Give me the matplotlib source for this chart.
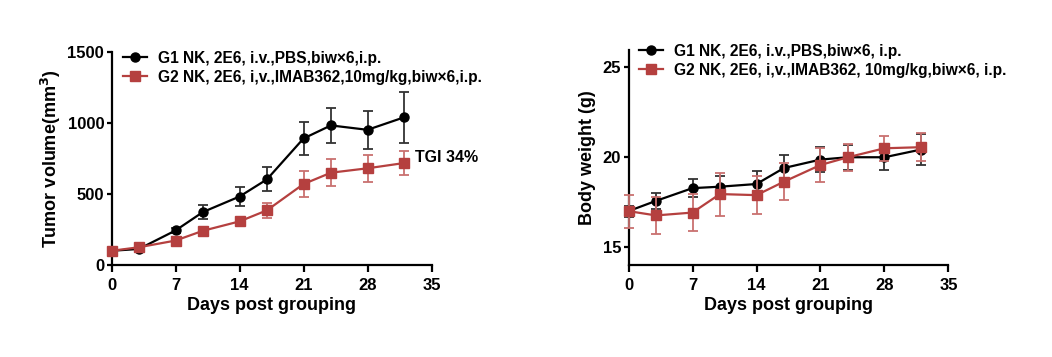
import matplotlib
matplotlib.use("Agg")
import matplotlib.pyplot as plt
from matplotlib.lines import Line2D

plt.rcParams['font.family'] = ['Liberation Sans', 'DejaVu Sans']
plt.rcParams['font.weight'] = 'bold'

days = [0, 3, 7, 10, 14, 17, 21, 24, 28, 32]

# Tumor volume
g1_tv = [100, 113, 243, 373, 482, 603, 891, 983, 952, 1040]
g1_tv_err = [8, 10, 20, 50, 70, 85, 115, 123, 135, 180]
g2_tv = [100, 125, 172, 241, 307, 385, 570, 650, 681, 718]
g2_tv_err = [8, 10, 15, 15, 20, 52, 92, 95, 95, 82]

# Body weight
g1_bw = [17.0, 17.57, 18.28, 18.36, 18.51, 19.40, 19.87, 20.0, 20.0, 20.43]
g1_bw_err = [0.3, 0.43, 0.5, 0.6, 0.75, 0.75, 0.7, 0.7, 0.7, 0.85]
g2_bw = [17.0, 16.76, 16.92, 17.95, 17.89, 18.64, 19.57, 20.0, 20.5, 20.56]
g2_bw_err = [0.92, 1.05, 1.05, 1.2, 1.07, 1.02, 0.96, 0.75, 0.7, 0.78]

left_labels = ["G1 NK, 2E6, i.v.,PBS,biw\u00d76,i.p.",
               "G2 NK, 2E6, i,v.,IMAB362,10mg/kg,biw\u00d76,i.p."]
right_labels = ["G1 NK, 2E6, i.v.,PBS,biw\u00d76, i.p.",
                "G2 NK, 2E6, i,v.,IMAB362, 10mg/kg,biw\u00d76, i.p."]
xticks = [0, 7, 14, 21, 28, 35]

BLACK = '#000000'
RED = '#B5403F'
RED_ERR = '#C9716F'
BLK_ERR = '#333333'

W, H = 1052, 357
fig = plt.figure(figsize=(W / 100, H / 100), dpi=100)

ax1 = fig.add_axes([111.5 / W, 1 - 265 / H, 320 / W, (265 - 52) / H])
ax2 = fig.add_axes([628.5 / W, 1 - 265 / H, 320 / W, (265 - 49.5) / H])


def style(ax):
    for s in ['top', 'right']:
        ax.spines[s].set_visible(False)
    for s in ['left', 'bottom']:
        ax.spines[s].set_linewidth(1.6)
    ax.tick_params(width=1.6, labelsize=12)
    ax.tick_params(axis='x', length=5, pad=4)
    ax.tick_params(axis='y', length=3.8, pad=1.5)
    for lab in ax.get_xticklabels() + ax.get_yticklabels():
        lab.set_fontweight('bold')
    ax.set_xlabel('Days post grouping', fontsize=13, fontweight='bold', labelpad=3)


def draw(ax, g1, e1, g2, e2):
    ax.errorbar(days, g1, yerr=e1, fmt='none', ecolor=BLK_ERR, elinewidth=1.3,
                capsize=3.5, capthick=1.3, zorder=2, clip_on=False)
    ax.plot(days, g1, '-o', color=BLACK, lw=1.6, ms=6.5, zorder=3, clip_on=False)
    ax.errorbar(days, g2, yerr=e2, fmt='none', ecolor=RED_ERR, elinewidth=1.3,
                capsize=3.5, capthick=1.3, zorder=4, clip_on=False)
    ax.plot(days, g2, '-s', color=RED, lw=1.6, ms=6.5, zorder=5, clip_on=False)


def legend(ax, labels, anchor):
    handles = [Line2D([], [], color=BLACK, marker='o', lw=1.6, ms=6.5),
               Line2D([], [], color=RED, marker='s', lw=1.6, ms=6.5)]
    ax.legend(handles, labels, loc='upper left', bbox_to_anchor=anchor, frameon=False,
              prop={'weight': 'bold', 'size': 11.2}, handlelength=1.55, handletextpad=0.7,
              labelspacing=0.25, borderpad=0, borderaxespad=0)


draw(ax1, g1_tv, g1_tv_err, g2_tv, g2_tv_err)
ax1.set_xlim(0, 35)
ax1.set_ylim(0, 1500)
ax1.set_xticks(xticks)
ax1.set_yticks([0, 500, 1000, 1500])
ax1.set_ylabel('Tumor volume(mm$^\\mathbf{3}$)', fontsize=13, fontweight='bold', labelpad=3)
style(ax1)
ax1.text(33.2, 756, 'TGI 34%', fontsize=11.5, fontweight='bold', ha='left', va='center')
legend(ax1, left_labels, (11 / 320, 1.006))

draw(ax2, g1_bw, g1_bw_err, g2_bw, g2_bw_err)
ax2.set_xlim(0, 35)
ax2.set_ylim(14, 26)
ax2.set_xticks(xticks)
ax2.set_yticks([15, 20, 25])
ax2.set_ylabel('Body weight (g)', fontsize=13, fontweight='bold', labelpad=5)
style(ax2)
legend(ax2, right_labels, (10 / 320, 1.026))

fig.savefig('out.png', dpi=100)
